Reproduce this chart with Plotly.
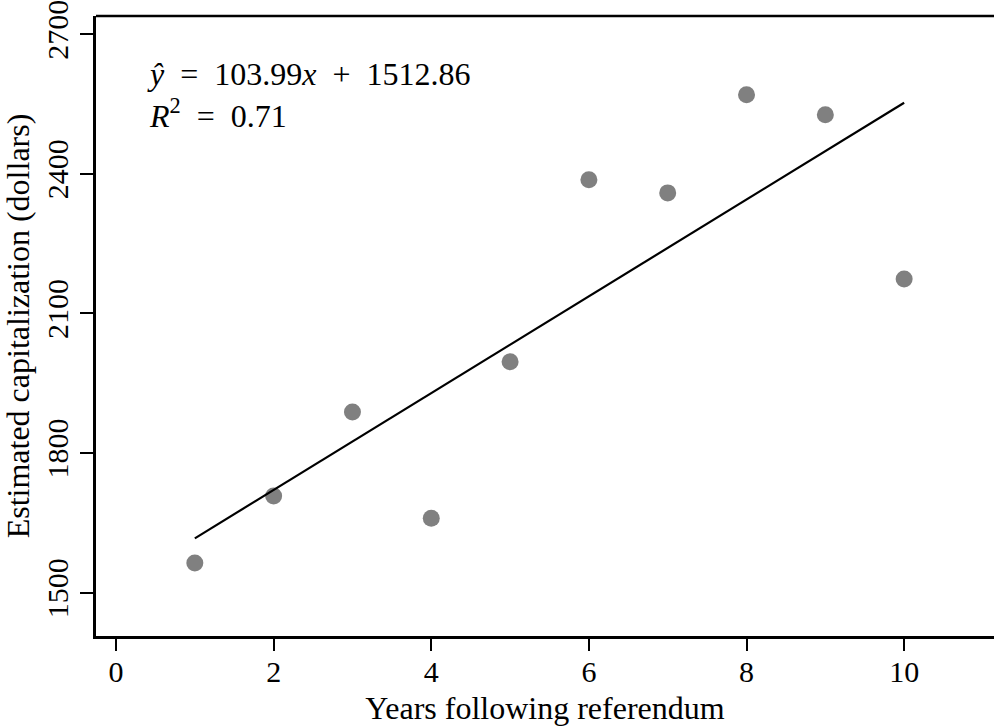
import plotly.graph_objects as go

years = [1, 2, 3, 4, 5, 6, 7, 8, 9, 10]
capitalization = [1564, 1708, 1888, 1660, 1996, 2387, 2359, 2570, 2527, 2174]
slope = 103.99
intercept = 1512.86
r_squared = 0.71
x_ticks = [0, 2, 4, 6, 8, 10]
y_ticks = [1500, 1800, 2100, 2400, 2700]

fit_x = [min(years), max(years)]
fit_y = [slope * v + intercept for v in fit_x]

font_family = "Liberation Serif, Times New Roman, serif"
sp = "\u2002"

fig = go.Figure()
fig.add_trace(go.Scatter(x=years, y=capitalization, mode="markers",
                         marker=dict(color="#808080", size=17, line=dict(width=0)),
                         showlegend=False))
fig.add_trace(go.Scatter(x=fit_x, y=fit_y, mode="lines",
                         line=dict(color="black", width=2.2), showlegend=False))

fig.add_annotation(
    x=0.0545, y=0.938, xref="paper", yref="paper", xanchor="left", yanchor="top",
    align="left", showarrow=False,
    text=(f"<i>ŷ</i>{sp}={sp}{slope:.2f}<i>x</i>{sp}+{sp}{intercept:.2f}"
          f"<br><i>R</i><sup>2</sup>{sp}={sp}{r_squared:.2f}"),
    font=dict(family=font_family, size=32, color="black"),
)

# top border line
fig.add_shape(type="line", xref="paper", yref="paper", x0=0, x1=1, y0=1, y1=1,
              line=dict(color="black", width=2.5))

fig.update_xaxes(
    range=[-0.254, 11.14], tickvals=x_ticks, ticks="outside", ticklen=12, tickwidth=1.5,
    tickcolor="black", showline=True, linecolor="black", linewidth=2.5,
    showgrid=False, zeroline=False, automargin=False, ticklabelstandoff=-5,
    title=dict(text="Years following referendum",
               font=dict(family=font_family, size=32, color="black")),
    tickfont=dict(family=font_family, size=30, color="black"),
)
fig.update_yaxes(
    range=[1407, 2739], tickvals=y_ticks, ticks="outside", ticklen=13, tickwidth=1.5,
    tickcolor="black", showline=True, linecolor="black", linewidth=2.5,
    showgrid=False, zeroline=False, tickangle=-90, automargin=False,
    ticklabeloverflow="allow",
    title=dict(text="Estimated capitalization (dollars)",
               font=dict(family=font_family, size=32, color="black")),
    tickfont=dict(family=font_family, size=30, color="black"),
)

fig.update_layout(
    width=994, height=726,
    margin=dict(l=96, r=0, t=16, b=90),
    plot_bgcolor="white", paper_bgcolor="white",
)

# remove the default 8px page margin so the figure fills the window exactly
fig.write_html("out.html", config={"displayModeBar": False},
               post_script="document.body.style.margin='0';")
